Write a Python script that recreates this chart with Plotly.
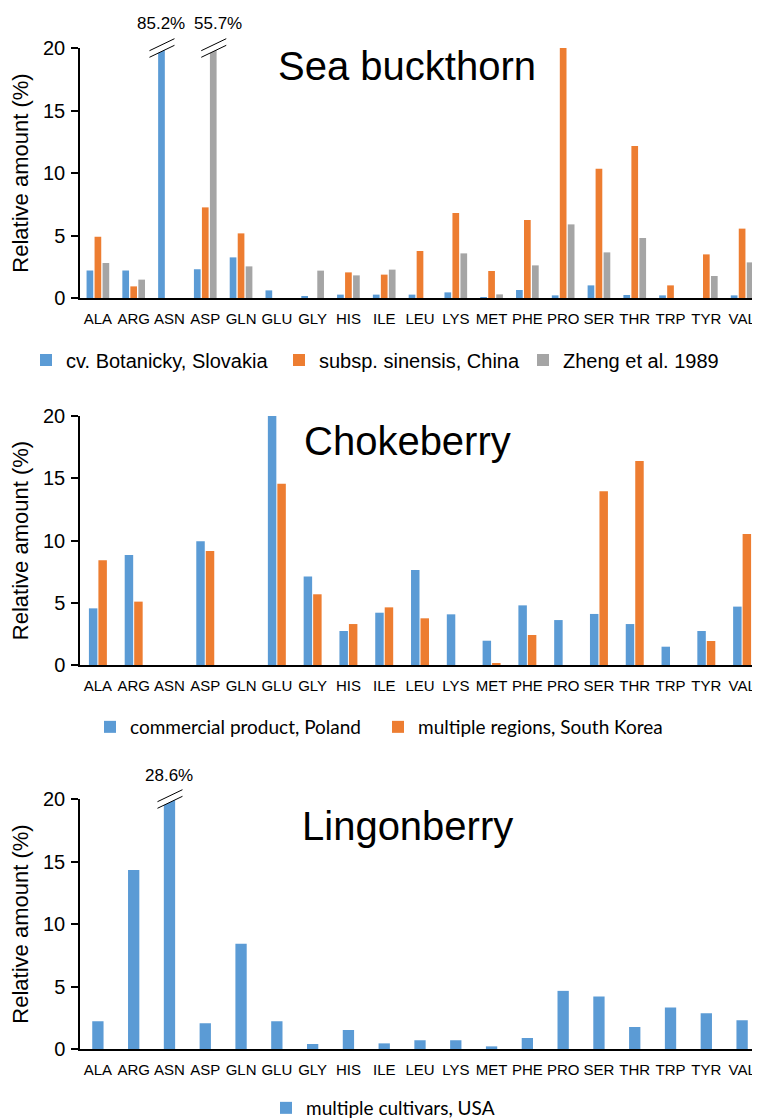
import plotly.graph_objects as go

amino_acids = ["ALA", "ARG", "ASN", "ASP", "GLN", "GLU", "GLY", "HIS", "ILE", "LEU",
               "LYS", "MET", "PHE", "PRO", "SER", "THR", "TRP", "TYR", "VAL"]

# Sea buckthorn
sb_botanicky = [2.2, 2.2, 85.2, 2.3, 3.25, 0.61, 0.13, 0.27, 0.27, 0.27,
                0.45, 0.05, 0.64, 0.21, 1.01, 0.24, 0.21, 0.0, 0.21]
sb_sinensis = [4.9, 0.93, 0.0, 7.25, 5.17, 0.0, 0.0, 2.05, 1.87, 3.76,
               6.8, 2.16, 6.24, 20.0, 10.35, 12.16, 1.01, 3.49, 5.55]
sb_zheng = [2.8, 1.47, 0.0, 55.7, 2.53, 0.0, 2.19, 1.81, 2.27, 0.0,
            3.57, 0.29, 2.61, 5.89, 3.65, 4.8, 0.0, 1.76, 2.85]

# Chokeberry
ch_poland = [4.55, 8.84, 0.0, 9.93, 0.0, 20.0, 7.1, 2.73, 4.2, 7.63,
             4.07, 1.95, 4.79, 3.61, 4.1, 3.29, 1.47, 2.73, 4.69]
ch_korea = [8.41, 5.09, 0.0, 9.16, 0.0, 14.56, 5.68, 3.29, 4.63, 3.75,
            0.0, 0.13, 2.41, 0.0, 13.95, 16.39, 0.0, 1.93, 10.52]

# Lingonberry
li_usa = [2.22, 14.33, 28.6, 2.06, 8.42, 2.22, 0.4, 1.52, 0.45, 0.7,
          0.7, 0.21, 0.88, 4.65, 4.2, 1.76, 3.32, 2.86, 2.3]

y_ticks = [0, 5, 10, 15, 20]
y_max = 20

BLUE, ORANGE, GRAY = "#5B9BD5", "#ED7D31", "#A5A5A5"
PAGE_OFF = 8                      # default body margin of the page
W, H = 760 - PAGE_OFF, 1118 - PAGE_OFF
ARIAL = "Liberation Sans, Arial"


def px_x(p):   # page pixel -> paper x
    return (p - PAGE_OFF) / W


def px_y(p):   # page pixel -> paper y
    return 1 - (p - PAGE_OFF) / H


AX_LEFT = 80
XDOM = [px_x(AX_LEFT), 1.0]
panels = [
    dict(title="Sea buckthorn", top=48, bottom=298, title_y=66, group=0.67, bar=0.187,
         series=[("cv. Botanicky, Slovakia", sb_botanicky, BLUE, 65),
                 ("subsp. sinensis, China", sb_sinensis, ORANGE, 318),
                 ("Zheng et al. 1989", sb_zheng, GRAY, 562)],
         legend_y=360, font=ARIAL, lsize=20),
    dict(title="Chokeberry", top=416, bottom=665, title_y=441, group=0.53, bar=0.237,
         series=[("commercial product, Poland", ch_poland, BLUE, 129),
                 ("multiple regions, South Korea", ch_korea, ORANGE, 417)],
         legend_y=727, font="Lato", lsize=19),
    dict(title="Lingonberry", top=799, bottom=1049, title_y=826, group=0.316, bar=0.316,
         series=[("multiple cultivars, USA", li_usa, BLUE, 305)],
         legend_y=1108, font="Lato", lsize=19),
]

fig = go.Figure()
layout = dict(width=W, height=H, margin=dict(l=0, r=0, t=0, b=0, autoexpand=False),
              plot_bgcolor="white", paper_bgcolor="white", barmode="overlay",
              showlegend=True, font=dict(family=ARIAL, color="black"))
shapes, annotations = [], []
ncat = len(amino_acids)
cat_px = (760 - AX_LEFT) / ncat
legend_idx = 0
for p_i, p in enumerate(panels):
    sfx = "" if p_i == 0 else str(p_i + 1)
    n = len(p["series"])
    slot = p["group"] / n
    last_label_x = None
    for k, (name, vals, color, text_x) in enumerate(p["series"]):
        legend_idx += 1
        lname = "legend" if legend_idx == 1 else f"legend{legend_idx}"
        off = -p["group"] / 2 + k * slot + (slot - p["bar"]) / 2
        fig.add_trace(go.Bar(x=amino_acids, y=vals, name=name, marker_color=color,
                             marker_line_width=0, width=p["bar"], offset=off,
                             xaxis="x" + sfx, yaxis="y" + sfx, legend=lname, showlegend=True))
        layout[lname] = dict(x=px_x(text_x - 39), xanchor="left", orientation="h",
                             y=px_y(p["legend_y"]), yanchor="middle",
                             bgcolor="rgba(0,0,0,0)",
                             font=dict(family=p["font"], size=p["lsize"], color="black"))
        # break marks for bars exceeding axis maximum
        for i, v in enumerate(vals):
            if v > y_max:
                cx = AX_LEFT + (i + 0.5 + off + p["bar"] / 2) * cat_px
                cy = p["top"]

                def P(dx, dy):
                    return px_x(cx + dx), px_y(cy + dy)
                a1, a2 = P(-12, 3.3 + 6), P(13, 3.3 - 6)
                b1, b2 = P(-12, -3.3 + 6), P(13, -3.3 - 6)
                shapes.append(dict(type="path", xref="paper", yref="paper",
                                   path=f"M{a1[0]},{a1[1]} L{a2[0]},{a2[1]} L{b2[0]},{b2[1]} L{b1[0]},{b1[1]} Z",
                                   fillcolor="white", line=dict(width=0)))
                for s1, s2 in ((a1, a2), (b1, b2)):
                    shapes.append(dict(type="line", xref="paper", yref="paper",
                                       x0=s1[0], y0=s1[1], x1=s2[0], y1=s2[1],
                                       line=dict(color="black", width=1)))
                lx = cx
                if last_label_x is not None and lx - last_label_x < 57:
                    lx = last_label_x + 57
                last_label_x = lx
                annotations.append(dict(text=f"{v}%", xref="paper", yref="paper",
                                        x=px_x(lx), y=px_y(cy - 24), showarrow=False,
                                        xanchor="center", yanchor="middle",
                                        font=dict(size=17, family=ARIAL)))
    dom = [px_y(p["bottom"]), px_y(p["top"])]
    layout["xaxis" + sfx] = dict(domain=XDOM, anchor="y" + sfx, type="category",
                                 categoryorder="array", categoryarray=amino_acids,
                                 range=[-0.5, ncat - 0.5], showline=True, linecolor="black",
                                 linewidth=1.5, ticks="", showgrid=False, zeroline=False,
                                 automargin=False,
                                 tickfont=dict(size=15, family=ARIAL),
                                 tickangle=0, ticklabelstandoff=6)
    layout["yaxis" + sfx] = dict(domain=dom, anchor="x" + sfx, range=[0, y_max],
                                 tickvals=y_ticks, showline=True, linecolor="black",
                                 linewidth=1.5, ticks="outside", ticklen=7, tickwidth=1.5,
                                 tickcolor="black", showgrid=False, zeroline=False,
                                 automargin=False, ticklabelstandoff=2,
                                 tickfont=dict(size=20, family=ARIAL),
                                 title=dict(text="Relative amount (%)", standoff=16,
                                            font=dict(size=22, family=ARIAL)))
    annotations.append(dict(text=p["title"], xref="paper", yref="paper", x=px_x(407),
                            y=px_y(p["title_y"]), showarrow=False, xanchor="center",
                            yanchor="middle", font=dict(size=40, family=ARIAL)))

layout["shapes"] = shapes
layout["annotations"] = annotations
fig.update_layout(**layout)
fig.write_html("out.html")
